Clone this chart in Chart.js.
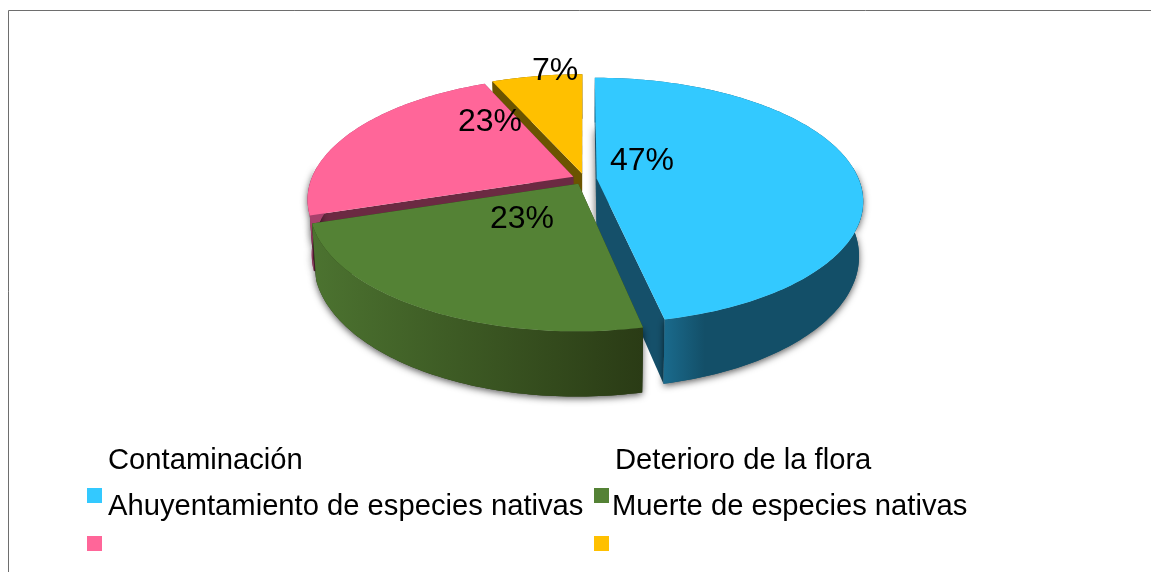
<!DOCTYPE html>
<html lang="es">
<head>
  <meta charset="UTF-8">
  <title>Impactos</title>
  <style>
    body { margin: 0; background: #fff; }
    canvas { display: block; }
  </style>
</head>
<body>
  <canvas id="chart" width="1151" height="572"></canvas>

  <script src="https://cdn.jsdelivr.net/npm/chart.js"></script>
  <script>
    // Data
    const categories = ['Ahuyentamiento de especies nativas', 'Muerte de especies nativas', '', ''];
    const legendHeaders = ['Contaminación', 'Deterioro de la flora'];
    const values = [46.7, 23.3, 23.4, 6.6];
    const colors = ['#33C9FF', '#548235', '#FF6699', '#FFC000'];

    // Side shading of each slice: [wall start, wall end, cut face]
    const wallColors = [
      ['#1A6A8C', '#134F68', '#15506A'],
      ['#4C7330', '#2A3B15', '#2A3B15'],
      ['#A8406C', '#A8406C', '#6B2A42'],
      ['#6B5400', '#6B5400', '#6B5400']
    ];

    // Tilted view of the pie
    const view = { cx: 584.5, cy: 179, a: 262, b: 119, k: 0.18, depth: 53, narrow: 0.985 };
    const drawOrder = [3, 2, 0, 1];
    const labelFont = '32px "Liberation Sans", Arial, sans-serif';
    const legendFont = '29.2px "Liberation Sans", Arial, sans-serif';
    const labelPos = [[642, 161], [490, 122], [522, 219], [555, 71]];

    // Turns a point of the flat pie into picture coordinates
    function project(arc, angle, frac, low) {
      const mid = (arc.startAngle + arc.endAngle) / 2;
      const off = arc.options.offset / arc.outerRadius;
      const u = off * Math.cos(mid) + frac * Math.cos(angle);
      const v = off * Math.sin(mid) + frac * Math.sin(angle);
      const w = 1 / (1 - view.k * v);
      if (low) {
        return [view.cx + view.a * view.narrow * u * w, view.cy + view.b * v * w + view.depth * w];
      }
      return [view.cx + view.a * u * w, view.cy + view.b * v * w];
    }

    function trace(ctx, points) {
      ctx.beginPath();
      points.forEach((p, i) => (i ? ctx.lineTo(p[0], p[1]) : ctx.moveTo(p[0], p[1])));
      ctx.closePath();
    }

    function arcAngles(from, to) {
      const list = [];
      const steps = Math.max(2, Math.ceil((to - from) / 0.02));
      for (let i = 0; i <= steps; i++) list.push(from + (to - from) * i / steps);
      return list;
    }

    function drawSlice(ctx, arc, index) {
      const start = arc.startAngle;
      const end = arc.endAngle;
      const angles = arcAngles(start, end);
      const shade = wallColors[index];

      // the blue slice throws a shadow into the gap next to the yellow one
      if (index === 0) {
        ctx.save();
        ctx.shadowColor = 'rgba(0,0,0,0.7)';
        ctx.shadowBlur = 8;
        ctx.fillStyle = shade[2];
        trace(ctx, [project(arc, start, 0.45), project(arc, start + 0.5, 0.3), project(arc, start, 0, true)]);
        ctx.fill();
        ctx.restore();
      }

      // cut faces
      ctx.fillStyle = shade[2];
      [start, end].forEach((a) => {
        trace(ctx, [project(arc, a, 0), project(arc, a, 1), project(arc, a, 1, true), project(arc, a, 0, true)]);
        ctx.fill();
      });

      // soft shadow under the part of the wall facing the viewer
      const front = angles.filter((a) => Math.sin(a) > -0.1);
      const wall = (list) => list.map((a) => project(arc, a, 1)).concat(list.slice().reverse().map((a) => project(arc, a, 1, true)));
      if (front.length > 1) {
        ctx.save();
        ctx.shadowColor = 'rgba(0,0,0,0.65)';
        ctx.shadowBlur = 7;
        ctx.shadowOffsetY = 2;
        ctx.fillStyle = shade[1];
        trace(ctx, wall(front));
        ctx.fill();
        ctx.restore();
      }

      // outer wall, shaded left to right
      const pts = wall(angles);
      const xs = pts.map((p) => p[0]);
      const grad = ctx.createLinearGradient(Math.min(...xs), 0, Math.max(...xs), 0);
      if (index === 0) {
        // blue wall is only bright near the front corner
        const corner = project(arc, end, 1)[0];
        const left = Math.min(...xs);
        const span = Math.max(...xs) - left;
        grad.addColorStop((corner - left) / span, shade[0]);
        grad.addColorStop((corner - left + 40) / span, shade[1]);
        grad.addColorStop(1, shade[1]);
      } else {
        grad.addColorStop(0, shade[0]);
        grad.addColorStop(1, shade[1]);
      }
      ctx.fillStyle = grad;
      trace(ctx, pts);
      ctx.fill();

      // top face
      ctx.fillStyle = colors[index];
      trace(ctx, [project(arc, start, 0)].concat(angles.map((a) => project(arc, a, 1))));
      ctx.fill();
    }

    const tiltedPie = {
      id: 'tiltedPie',
      beforeDatasetsDraw(chart) {
        const ctx = chart.ctx;
        const arcs = chart.getDatasetMeta(0).data;
        drawOrder.forEach((i) => drawSlice(ctx, arcs[i], i));
        return false;
      },
      afterDraw(chart) {
        const ctx = chart.ctx;
        const total = values.reduce((a, b) => a + b, 0);
        ctx.save();

        // frame, only top and left show in the picture
        ctx.strokeStyle = '#6E6E6E';
        ctx.lineWidth = 1;
        ctx.beginPath();
        ctx.moveTo(8.5, 572);
        ctx.lineTo(8.5, 10.5);
        ctx.lineTo(1151, 10.5);
        ctx.stroke();

        // percentages
        ctx.fillStyle = '#000';
        ctx.font = labelFont;
        ctx.textAlign = 'center';
        ctx.textBaseline = 'middle';
        values.forEach((v, i) => ctx.fillText(Math.round(v / total * 100) + '%', labelPos[i][0], labelPos[i][1]));

        // legend
        ctx.font = legendFont;
        ctx.textAlign = 'left';
        ctx.textBaseline = 'alphabetic';
        ctx.fillText(legendHeaders[0], 108, 469);
        ctx.fillText(legendHeaders[1], 615, 469);
        ctx.fillText(categories[0], 108, 515);
        ctx.fillText(categories[1], 612, 515);
        const boxes = [[87, 488], [594, 488], [87, 536], [594, 536]];
        boxes.forEach((b, i) => {
          ctx.fillStyle = colors[i];
          ctx.fillRect(b[0], b[1], 15, 15);
        });
        ctx.restore();
      }
    };

    new Chart(document.getElementById('chart'), {
      type: 'pie',
      data: {
        labels: categories,
        datasets: [{ data: values, backgroundColor: colors, borderWidth: 0, offset: 8.5 }]
      },
      options: {
        responsive: false,
        animation: false,
        layout: { padding: { bottom: 200 } },
        plugins: { legend: { display: false }, tooltip: { enabled: false } }
      },
      plugins: [tiltedPie]
    });
  </script>
</body>
</html>
